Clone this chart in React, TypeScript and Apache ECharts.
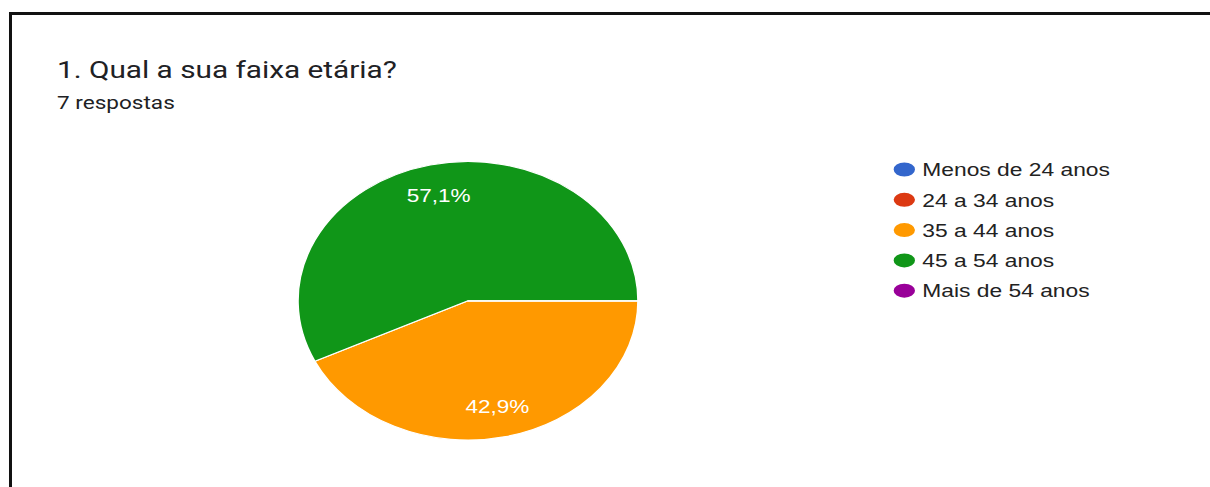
import React, { useEffect, useRef } from "react";
import * as echarts from "echarts";

const titleText = "1. Qual a sua faixa etária?";
const subtitleText = "7 respostas";
const categories = ["Menos de 24 anos", "24 a 34 anos", "35 a 44 anos", "45 a 54 anos", "Mais de 54 anos"];
const counts = [0, 0, 3, 4, 0];
const colors = ["#3366cc", "#dc3912", "#ff9900", "#109618", "#990099"];

const S = 1.22; // horizontal stretch of the reference picture
const W = 1210 / S;
const H = 487;

export default function App() {
  const ref = useRef<HTMLDivElement>(null);
  useEffect(() => {
    if (!ref.current) return;
    const chart = echarts.init(ref.current, undefined, { renderer: "svg" });
    const data = categories.map((name, i) => ({ name, value: counts[i], itemStyle: { color: colors[i] } }));
    const labelData = categories.map((name, i) => ({ name, value: counts[i] }));
    const center = [468 / S, 300.8];
    const R = 139.3;
    chart.setOption({
      animation: false,
      backgroundColor: "#ffffff",
      graphic: [
        { type: "rect", left: 9 / S, top: 12, shape: { width: 3 / S, height: H - 12 }, style: { fill: "#111" } },
        { type: "rect", left: 9 / S, top: 12, shape: { width: W, height: 3 }, style: { fill: "#111" } },
        {
          type: "text",
          x: 57 / S,
          y: 69.5,
          style: { text: titleText, fill: "#202124", font: "24.4px Roboto", verticalAlign: "middle", align: "left" },
        },
        {
          type: "text",
          x: 57 / S,
          y: 102.5,
          style: { text: subtitleText, fill: "#202124", font: "18.5px Roboto", verticalAlign: "middle", align: "left" },
        },
      ],
      legend: {
        orient: "vertical",
        left: 725.5,
        top: 155,
        padding: 5,
        itemWidth: 19.5,
        itemHeight: 16,
        itemGap: 11.3,
        symbolKeepAspect: false,
        icon: "path://M0,10A10,10,0,1,1,20,10A10,10,0,1,1,0,10Z",
        data: categories,
        selectedMode: false,
        textStyle: { fontFamily: "'Liberation Sans', Arial", fontSize: 18.7, color: "#222222" },
      },
      series: [
        {
          type: "pie",
          center,
          radius: R,
          startAngle: 0,
          clockwise: true,
          data,
          label: { show: false },
          labelLine: { show: false },
          emphasis: { disabled: true },
          itemStyle: { borderColor: "#ffffff", borderWidth: 1.2 },
        },
        {
          type: "pie",
          center,
          radius: [R * 0.51, R],
          startAngle: 0,
          clockwise: true,
          silent: true,
          data: labelData,
          itemStyle: { color: "transparent", borderWidth: 0 },
          emphasis: { disabled: true },
          labelLine: { show: false },
          label: {
            show: true,
            position: "inside",
            color: "#ffffff",
            fontFamily: "'Liberation Sans', Arial",
            fontSize: 18.5,
            formatter: (p: any) => (p.value ? p.percent.toFixed(1).replace(".", ",") + "%" : ""),
          },
        },
      ],
    });
    return () => chart.dispose();
  }, []);
  return (
    <div
      ref={ref}
      style={{
        position: "absolute",
        left: 0,
        top: 0,
        width: W,
        height: H,
        transform: `scaleX(${S})`,
        transformOrigin: "0 0",
      }}
    />
  );
}
